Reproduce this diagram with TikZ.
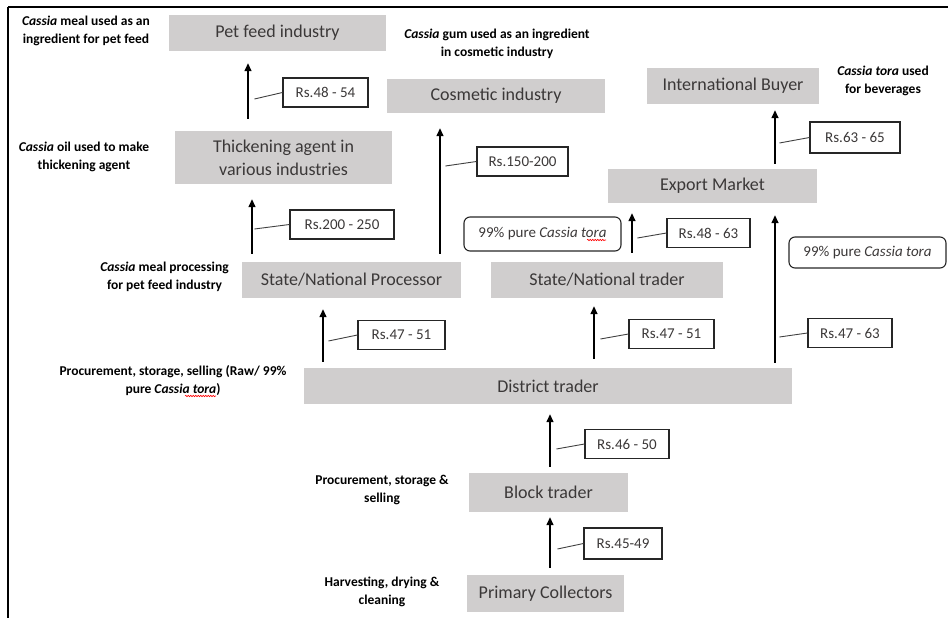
\documentclass[tikz,border=0pt]{standalone}
\usepackage{fontspec}
\setmainfont{Carlito}
\usepackage{tikz}
\usetikzlibrary{arrows.meta, decorations.pathmorphing}
\definecolor{stageGray}{HTML}{D0CECE}
\definecolor{labelInk}{HTML}{3B3838}

\begin{document}
\begin{tikzpicture}[
            x=1pt, y=-1pt,
            every node/.style={font=\fontsize{15}{18}\selectfont},
            stage/.style={rectangle, fill=stageGray, text=labelInk, font=\fontsize{18}{23}\selectfont, align=center, inner sep=0pt},
            price/.style={rectangle, draw=black!85, line width=1.1pt, text=labelInk, inner sep=0pt, minimum height=29pt},
            purity/.style={rectangle, draw=black!85, line width=1.1pt, rounded corners=6pt, text=labelInk, inner sep=0pt},
            note/.style={align=center, font=\fontsize{13.5}{18}\selectfont\bfseries, inner sep=0pt},
            flow/.style={-{Triangle[width=7pt,length=8pt]}, line width=1.4pt, draw=black},
            leader/.style={line width=0.9pt, draw=black!75},
            spellwave/.style={draw=red, line width=0.6pt, decorate, decoration={snake, amplitude=0.7pt, segment length=2.5pt}}
        ]
            \useasboundingbox (0,0) rectangle (948,618);
            % Frame
            \draw[line width=2.5pt] (8,7) -- (948,7);
            \draw[line width=2pt] (8,7) -- (8,618);

            % Nodes
            \node[stage, minimum width=217pt, minimum height=36pt] (pet) at (277.5,33) {Pet feed industry};
            \node[stage, minimum width=217pt, minimum height=53pt] (thick) at (283.5,157.5) {Thickening agent in\\various industries};
            \node[stage, minimum width=219pt, minimum height=36pt] (proc) at (351.5,280) {State/National Processor};
            \node[stage, minimum width=218pt, minimum height=34pt] (cosm) at (496,96) {Cosmetic industry};
            \node[stage, minimum width=172pt, minimum height=36pt] (intl) at (733,86) {International Buyer};
            \node[stage, minimum width=209pt, minimum height=34pt] (export) at (712.5,186) {Export Market};
            \node[stage, minimum width=232pt, minimum height=36pt] (strader) at (607,280) {State/National trader};
            \node[stage, minimum width=488pt, minimum height=36pt] (district) at (548,386) {District trader};
            \node[stage, minimum width=159pt, minimum height=39pt] (block) at (548.5,492.5) {Block trader};
            \node[stage, minimum width=157pt, minimum height=37pt] (primary) at (545.5,593.5) {Primary Collectors};

            % Prices
            \node[price, minimum width=85pt] (r1) at (325.5,92.5) {Rs.48 - 54};
            \node[price, minimum width=104pt] (r2) at (342,224.5) {Rs.200 - 250};
            \node[price, minimum width=91pt] (r3) at (522.5,161.5) {Rs.150-200};
            \node[price, minimum width=83pt] (r4) at (708.5,233) {Rs.48 - 63};
            \node[price, minimum width=90pt, minimum height=31pt] (r5) at (855,137.5) {Rs.63 - 65};
            \node[price, minimum width=87pt] (r6) at (401.5,335) {Rs.47 - 51};
            \node[price, minimum width=85pt] (r7) at (671.5,334) {Rs.47 - 51};
            \node[price, minimum width=84pt] (r8) at (850,333) {Rs.47 - 63};
            \node[price, minimum width=84pt] (r9) at (627,444) {Rs.46 - 50};
            \node[price, minimum width=78pt, minimum height=31pt] (r10) at (623,543.5) {Rs.45-49};

            \node[purity, minimum width=157pt, minimum height=34pt] (pure1) at (542.5,234) {99\% pure \textit{Cassia tora}};
            \node[purity, minimum width=157pt, minimum height=31pt] (pure2) at (867.5,252.5) {99\% pure \textit{Cassia tora}};

            % Notes
            \node[note] (n1) at (86,30.5) {\textit{Cassia} meal used as an\\ingredient for pet feed};
            \node[note] (n2) at (84,157) {\textit{Cassia} oil used to make\\thickening agent};
            \node[note] (n3) at (164.5,277) {\textit{Cassia} meal processing\\for pet feed industry};
            \node[note] (n4) at (497,44) {\textit{Cassia} gum used as an ingredient\\in cosmetic industry};
            \node[note] (n5) at (883,80.5) {\textit{Cassia tora} used\\for beverages};
            \node[note] (n6) at (173,381) {Procurement,  storage, selling (Raw/ 99\%\\pure \textit{Cassia tora})};
            \node[note] (n7) at (382,490) {Procurement,  storage \&\\selling};
            \node[note] (n8) at (382,592) {Harvesting, drying \&\\cleaning};

            % spell-check marks under "tora"
            \draw[spellwave] ([xshift=12pt,yshift=-15pt]n6.center) -- ++(31,0);
            \draw[spellwave] ([xshift=44.5pt,yshift=-6pt]pure1.center) -- ++(19,0);

            % Arrows
            \draw[flow, shorten <=12pt, shorten >=12pt] (thick.north -| 248,0) -- (pet.south -| 248,0);
            \draw[flow, shorten <=8pt, shorten >=15pt] (proc.north -| 252,0) -- (thick.south -| 252,0);
            \draw[flow, shorten <=8pt, shorten >=15pt] (proc.north -| 440,0) -- (cosm.south -| 440,0);
            \draw[flow, shorten <=9pt, shorten >=10pt] (strader.north -| 632,0) -- (export.south -| 632,0);
            \draw[flow, shorten <=5pt, shorten >=6pt] (export.north -| 775,0) -- (intl.south -| 775,0);
            \draw[flow, shorten <=5pt, shorten >=12pt] (district.north -| 775,0) -- (export.south -| 775,0);
            \draw[flow, shorten <=6pt, shorten >=11pt] (district.north -| 323,0) -- (proc.south -| 323,0);
            \draw[flow, shorten <=9pt, shorten >=8pt] (district.north -| 594,0) -- (strader.south -| 594,0);
            \draw[flow, shorten <=6pt, shorten >=10pt] (block.north -| 550,0) -- (district.south -| 550,0);
            \draw[flow, shorten <=7pt, shorten >=5pt] (primary.north -| 550,0) -- (block.south -| 550,0);

            % Leaders
            \draw[leader] (r1.west) -- ++(-28,6.5);
            \draw[leader] (r2.west) -- ++(-35,4.5);
            \draw[leader] (r3.west) -- ++(-31,4.5);
            \draw[leader] (r4.west) -- ++(-29,5);
            \draw[leader] (r5.west) -- ++(-30,5.5);
            \draw[leader] (r6.west) -- ++(-29,6);
            \draw[leader] (r7.west) -- ++(-28,5);
            \draw[leader] (r8.west) -- ++(-28,4);
            \draw[leader] (r9.west) -- ++(-28,5);
            \draw[leader] (r10.west) -- ++(-26,5.5);
        \end{tikzpicture}
\end{document}
